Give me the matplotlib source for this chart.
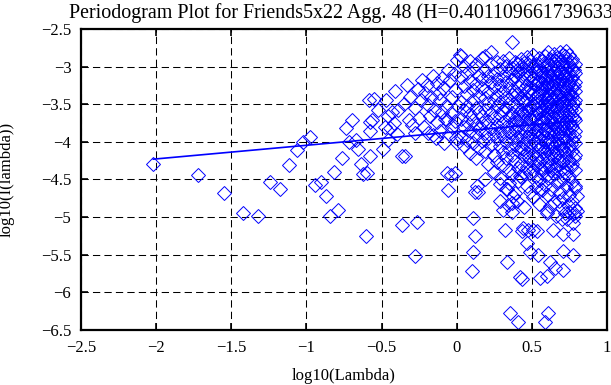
import numpy as np
import matplotlib
matplotlib.use('Agg')
import matplotlib.pyplot as plt

plt.rcParams['font.family'] = ['Liberation Serif', 'DejaVu Serif']

title = 'Periodogram Plot for Friends5x22 Agg. 48 (H=0.401109661739633)'

# low-frequency points, read one by one
sparse_x = [-2.019, -1.720, -1.549, -1.424, -1.320, -1.242, -1.176, -1.117, -1.066, -1.021,
            -0.976, -0.943, -0.904, -0.871, -0.841, -0.787, -0.816, -0.761, -0.737, -0.718,
            -0.697, -0.672, -0.655, -0.637, -0.622, -0.603, -0.582, -0.580, -0.549, -0.522,
            -0.562, -0.577, -0.577, -0.599, -0.489, -0.455, -0.444, -0.455, -0.411, -0.389,
            -0.366, -0.344, -0.366, -0.266, -0.278, -0.333, -0.300, -0.320, -0.278, -0.470,
            -0.420, -0.400, -0.350, -0.310, -0.480, -0.430]
sparse_y = [-4.29, -4.44, -4.68, -4.94, -4.98, -4.53, -4.63, -4.31, -4.11, -4.00,
            -3.93, -4.57, -4.54, -4.72, -4.98, -4.90, -4.40, -4.22, -3.81, -4.00,
            -3.71, -3.97, -4.10, -4.29, -4.43, -5.25, -3.45, -3.73, -3.43, -3.57,
            -3.71, -3.86, -4.19, -4.41, -4.10, -3.97, -3.82, -3.66, -3.33, -3.57,
            -4.19, -4.19, -5.10, -5.07, -5.52, -3.24, -3.77, -3.71, -3.88, -3.45,
            -3.75, -3.90, -3.50, -3.40, -3.80, -3.60]

# points between -0.3 and 0.0
mid_x = [-0.233, -0.211, -0.189, -0.178, -0.156, -0.133, -0.111, -0.096, -0.083, -0.067,
         -0.038, -0.060, -0.045, -0.012, 0.000, 0.022, -0.034, 0.000, 0.010, -0.067,
         -0.133, -0.012, -0.280, -0.260, -0.250, -0.240, -0.220, -0.200, -0.190, -0.170,
         -0.160, -0.150, -0.140, -0.120, -0.110, -0.100, -0.090, -0.080, -0.070, -0.060,
         -0.050, -0.040, -0.030, -0.020, -0.010, -0.005]
mid_y = [-3.18, -3.35, -3.51, -3.66, -3.91, -3.22, -3.44, -3.60, -4.02, -4.41,
         -4.44, -4.64, -3.18, -3.31, -2.91, -2.84, -3.80, -4.02, -3.53, -3.71,
         -3.73, -4.42, -3.55, -3.30, -3.68, -3.45, -3.80, -3.25, -3.88, -3.40,
         -3.12, -3.58, -3.95, -3.35, -3.85, -3.15, -3.28, -3.70, -3.52, -3.05,
         -3.90, -3.62, -3.40, -3.10, -3.72, -3.95]

# dense high-frequency band, read column by column
dense_x = [0.03, 0.05, 0.07, 0.09, 0.11, 0.13, 0.15, 0.17, 0.19, 0.21,
           0.23, 0.25, 0.27, 0.29, 0.31, 0.33, 0.35, 0.37, 0.39, 0.41,
           0.43, 0.45, 0.47, 0.49, 0.51, 0.53, 0.55, 0.57, 0.59, 0.61,
           0.63, 0.65, 0.67, 0.69, 0.71, 0.73, 0.75, 0.77, 0.79]
dense_y = [
    [-2.86, -3.14, -3.47, -3.69, -3.93],
    [-2.99, -3.26, -3.58, -3.80, -4.06],
    [-3.08, -3.37, -3.52, -3.74, -3.97],
    [-2.93, -3.19, -3.63, -3.86, -4.15],
    [-3.02, -3.31, -3.44, -3.71, -4.02],
    [-2.96, -3.23, -3.55, -3.78, -3.91, -4.21],
    [-3.11, -3.39, -3.60, -3.83, -4.08],
    [-2.88, -3.17, -3.28, -3.66, -3.75, -3.99],
    [-2.86, -3.05, -3.42, -3.57, -3.88, -4.12],
    [-3.13, -3.34, -3.49, -3.72, -3.95, -4.30],
    [-2.80, -2.97, -3.21, -3.62, -3.81, -4.04],
    [-3.08, -3.27, -3.45, -3.68, -3.90, -4.18, -4.40],
    [-2.94, -3.16, -3.38, -3.53, -3.77, -3.96, -4.27],
    [-3.03, -3.24, -3.47, -3.64, -3.85, -4.06, -4.48],
    [-2.93, -3.12, -3.33, -3.58, -3.73, -3.92, -4.14, -4.31],
    [-2.99, -3.20, -3.41, -3.55, -3.80, -4.00, -4.22, -4.62],
    [-2.88, -3.09, -3.29, -3.49, -3.67, -3.87, -4.09, -4.38, -4.55],
    [-2.67, -3.02, -3.18, -3.38, -3.61, -3.76, -3.95, -4.17, -4.44],
    [-2.94, -3.13, -3.32, -3.52, -3.70, -3.84, -4.04, -4.26, -4.68],
    [-2.97, -3.08, -3.26, -3.45, -3.63, -3.79, -3.98, -4.12, -4.35, -4.52],
    [-2.90, -3.03, -3.22, -3.40, -3.57, -3.72, -3.91, -4.08, -4.29, -4.47],
    [-2.95, -3.15, -3.30, -3.48, -3.66, -3.83, -4.01, -4.19, -4.40, -4.86],
    [-2.87, -3.06, -3.24, -3.43, -3.59, -3.77, -3.94, -4.13, -4.33, -4.58],
    [-2.92, -3.11, -3.28, -3.37, -3.54, -3.69, -3.88, -4.05, -4.24, -4.42, -4.66],
    [-2.85, -3.01, -3.17, -3.33, -3.50, -3.64, -3.81, -3.97, -4.16, -4.37, -4.73],
    [-2.96, -3.09, -3.25, -3.41, -3.56, -3.71, -3.86, -4.03, -4.21, -4.46, -4.60],
    [-2.89, -3.04, -3.19, -3.35, -3.47, -3.62, -3.78, -3.93, -4.10, -4.28, -4.51, -4.82],
    [-2.93, -3.07, -3.22, -3.30, -3.44, -3.58, -3.73, -3.89, -4.06, -4.23, -4.41, -4.64],
    [-2.86, -2.99, -3.14, -3.27, -3.40, -3.53, -3.68, -3.84, -4.00, -4.15, -4.34, -4.57],
    [-2.80, -2.97, -3.11, -3.24, -3.37, -3.49, -3.63, -3.79, -3.95, -4.09, -4.26, -4.48, -4.71],
    [-2.91, -3.05, -3.18, -3.31, -3.43, -3.56, -3.70, -3.86, -4.02, -4.18, -4.37, -4.62],
    [-2.83, -2.96, -3.09, -3.21, -3.34, -3.46, -3.60, -3.75, -3.91, -4.07, -4.22, -4.43, -4.80],
    [-2.88, -3.02, -3.15, -3.28, -3.39, -3.52, -3.66, -3.81, -3.97, -4.13, -4.31, -4.55],
    [-2.81, -2.94, -3.07, -3.19, -3.32, -3.45, -3.57, -3.71, -3.87, -4.03, -4.19, -4.39, -4.66],
    [-2.85, -2.99, -3.12, -3.25, -3.36, -3.48, -3.62, -3.77, -3.93, -4.10, -4.27, -4.50, -4.75],
    [-2.79, -2.92, -3.04, -3.17, -3.29, -3.42, -3.55, -3.68, -3.83, -3.99, -4.16, -4.35, -4.59],
    [-2.84, -2.97, -3.10, -3.22, -3.35, -3.47, -3.60, -3.74, -3.89, -4.05, -4.24, -4.46, -4.70, -4.93],
    [-2.90, -3.03, -3.14, -3.27, -3.40, -3.52, -3.65, -3.80, -3.96, -4.12, -4.30, -4.53, -4.78],
    [-2.96, -3.08, -3.20, -3.33, -3.45, -3.58, -3.71, -3.86, -4.01, -4.18, -4.38, -4.61, -4.88, -4.98],
]

# in-between columns where the band is nearly solid
core_x = [0.40, 0.44, 0.48, 0.52, 0.54, 0.56, 0.58, 0.60, 0.62, 0.64,
          0.66, 0.68, 0.70, 0.72, 0.74, 0.76, 0.78]
core_y = [
    [-3.05, -3.36, -3.71, -3.93],
    [-3.10, -3.45, -3.62, -4.10],
    [-2.98, -3.32, -3.57, -3.83, -4.20],
    [-3.06, -3.24, -3.48, -3.67, -3.91, -4.28],
    [-2.99, -3.20, -3.39, -3.61, -3.84, -4.05],
    [-3.12, -3.28, -3.52, -3.70, -3.96, -4.36],
    [-2.95, -3.16, -3.36, -3.56, -3.81, -4.12],
    [-3.04, -3.22, -3.45, -3.62, -3.88, -4.20, -4.44],
    [-2.90, -3.13, -3.30, -3.54, -3.74, -3.99, -4.31],
    [-3.02, -3.25, -3.42, -3.66, -3.84, -4.14],
    [-2.92, -3.14, -3.37, -3.55, -3.79, -4.02, -4.35],
    [-3.07, -3.23, -3.46, -3.64, -3.90, -4.24, -4.52],
    [-2.97, -3.18, -3.40, -3.60, -3.82, -4.08],
    [-2.86, -3.11, -3.31, -3.51, -3.73, -3.95, -4.40],
    [-3.01, -3.24, -3.43, -3.65, -3.86, -4.11],
    [-2.94, -3.17, -3.36, -3.57, -3.78, -4.03, -4.34],
    [-3.05, -3.26, -3.49, -3.68, -3.92, -4.21],
]

# lower tail of the high-frequency band
tail_x = [0.143, 0.188, 0.421, 0.288, 0.332, 0.288, 0.343, 0.399, 0.366, 0.310,
          0.110, 0.121, 0.321, 0.432, 0.110, 0.332, 0.099, 0.421, 0.432, 0.355,
          0.410, 0.610, 0.587, 0.476, 0.532, 0.466, 0.488, 0.543, 0.554, 0.598,
          0.620, 0.709, 0.642, 0.709, 0.775, 0.709, 0.775, 0.798, 0.775, 0.731,
          0.598, 0.510, 0.443, 0.366, 0.377, 0.121, 0.133, 0.654, 0.698, 0.787,
          0.560, 0.620, 0.680, 0.720, 0.660, 0.740, 0.800, 0.780, 0.700, 0.600]
tail_y = [-4.67, -4.49, -4.45, -4.56, -4.62, -4.79, -4.84, -4.78, -4.93, -4.91,
          -5.01, -5.25, -5.17, -5.18, -5.47, -5.59, -5.72, -5.80, -5.82, -6.27,
          -6.40, -6.27, -6.40, -5.17, -5.19, -5.34, -5.47, -5.50, -5.81, -5.78,
          -5.59, -5.70, -5.17, -5.23, -5.23, -5.45, -5.50, -4.92, -5.08, -5.03,
          -4.92, -5.17, -5.14, -4.81, -4.72, -4.66, -4.58, -5.68, -5.02, -4.58,
          -4.62, -4.85, -4.78, -4.95, -4.98, -4.84, -4.72, -4.95, -4.88, -4.95]

# least squares fit line
fit_x = [-2.019, 0.798]
fit_y = [-4.23, -3.72]

xs = list(sparse_x) + list(mid_x) + list(tail_x)
ys = list(sparse_y) + list(mid_y) + list(tail_y)
for x, col in zip(dense_x + core_x, dense_y + core_y):
    xs += [x] * len(col)
    ys += col

fig = plt.figure(figsize=(6.11, 3.85), dpi=100)
ax = fig.add_axes([0.1326, 0.1429, 0.8609, 0.7818])

ax.plot(xs, ys, linestyle='none', marker='D', markersize=7.4,
        markerfacecolor='none', markeredgecolor='#0000ff', markeredgewidth=0.7)
ax.plot(fit_x, fit_y, color='#0000ff', linewidth=1.2)

ax.set_xlim(-2.5, 1)
ax.set_ylim(-6.5, -2.5)
ax.set_xticks(np.arange(-2.5, 1.01, 0.5))
ax.set_yticks(np.arange(-6.5, -2.49, 0.5))
ax.set_xticklabels(['\u22122.5', '\u22122', '\u22121.5', '\u22121', '\u22120.5', '0', '0.5', '1'])
ax.set_yticklabels(['\u22126.5', '\u22126', '\u22125.5', '\u22125', '\u22124.5', '\u22124',
                    '\u22123.5', '\u22123', '\u22122.5'])

ax.grid(True, color='black', linestyle=(0, (7, 4)), linewidth=0.75)
ax.tick_params(direction='in', length=5, width=1.2, top=True, right=True,
               labelsize=12, pad=7, colors='black')
for s in ax.spines.values():
    s.set_linewidth(1.6)

ax.set_xlabel('log10(Lambda)', fontsize=12, labelpad=9)
ax.set_ylabel('log10(I(lambda))', fontsize=12, labelpad=19)
ax.set_title(title, fontsize=14.4, pad=8)

fig.savefig('out.png', dpi=100)
